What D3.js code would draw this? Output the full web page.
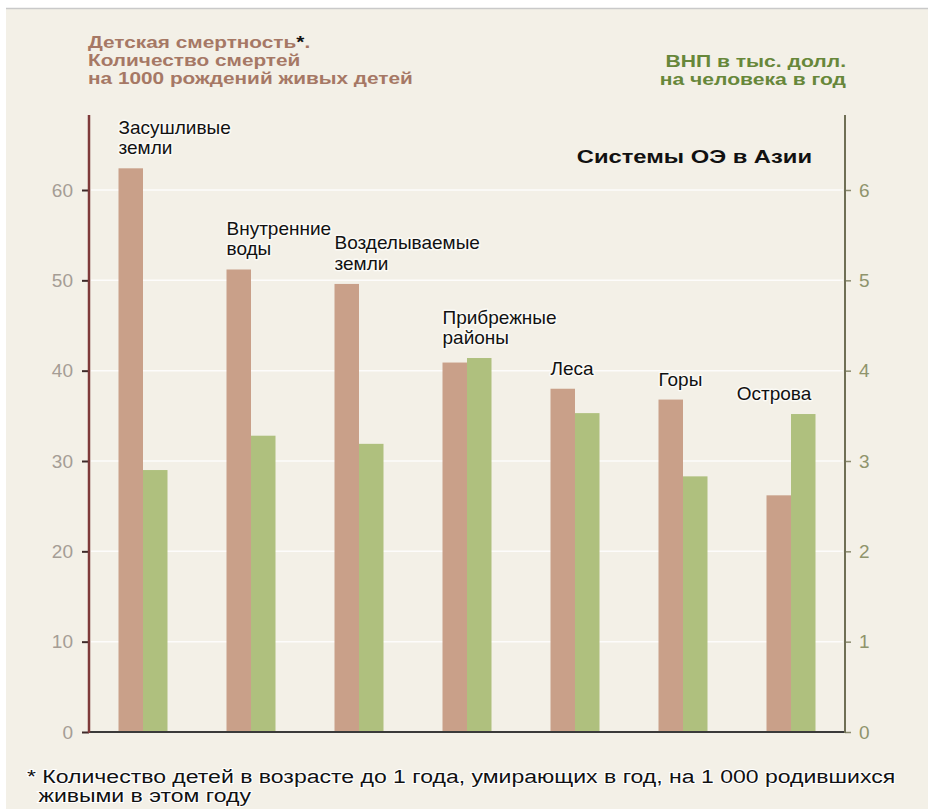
<!DOCTYPE html>
<html>
<head>
<meta charset="utf-8">
<script src="https://cdn.jsdelivr.net/npm/d3@7"></script>
<style>
  html, body { margin: 0; padding: 0; background: #ffffff; }
  svg { display: block; }
  text { font-family: "Liberation Sans", Arial, sans-serif; }
</style>
</head>
<body>
<svg id="chart" width="928" height="809"></svg>
<script>
// Ecosystem types in Asia
const categories = [
  ["Засушливые", "земли"],
  ["Внутренние", "воды"],
  ["Возделываемые", "земли"],
  ["Прибрежные", "районы"],
  ["Леса"],
  ["Горы"],
  ["Острова"]
];
// Infant mortality, deaths per 1000 live births
const mortality = [62.4, 51.2, 49.6, 40.9, 38.0, 36.8, 26.2];
// GNP, thousand USD per person per year
const gnp = [2.9, 3.28, 3.19, 4.14, 3.53, 2.83, 3.52];
const leftTicks = [0, 10, 20, 30, 40, 50, 60];
const rightTicks = [0, 1, 2, 3, 4, 5, 6];

const svg = d3.select("#chart");
const W = 928, H = 809;

// page card
svg.append("rect").attr("x", 6).attr("y", 8).attr("width", W - 6).attr("height", H - 8)
  .attr("fill", "#f3f0e7");
svg.append("line").attr("x1", 6).attr("x2", W).attr("y1", 8.5).attr("y2", 8.5)
  .attr("stroke", "#c9c9c9").attr("stroke-width", 1.5);

const plot = { left: 89, right: 845, bottom: 732, axisTop: 115 };

const names = categories.map(c => c.join(" "));
const x = d3.scaleBand().domain(names).range([plot.left, plot.right]).padding(0);
const yL = d3.scaleLinear().domain([0, 60]).range([plot.bottom, 190]);
const yR = d3.scaleLinear().domain([0, 6]).range([plot.bottom, 190]);
const barW = 24.5;

// grid lines
svg.append("g").selectAll("line").data(leftTicks.slice(1)).join("line")
  .attr("x1", plot.left + 2).attr("x2", plot.right - 2)
  .attr("y1", d => yL(d)).attr("y2", d => yL(d))
  .attr("stroke", "#ffffff").attr("stroke-width", 1.5).attr("opacity", 0.85);

// bars
const groups = svg.append("g").selectAll("g").data(names).join("g");
groups.append("rect")
  .attr("x", d => x(d) + x.bandwidth() / 2 - barW)
  .attr("y", (d, i) => yL(mortality[i]))
  .attr("width", barW)
  .attr("height", (d, i) => plot.bottom - yL(mortality[i]))
  .attr("fill", "#c9a089");
groups.append("rect")
  .attr("x", d => x(d) + x.bandwidth() / 2)
  .attr("y", (d, i) => yR(gnp[i]))
  .attr("width", barW)
  .attr("height", (d, i) => plot.bottom - yR(gnp[i]))
  .attr("fill", "#afc07e");

// category labels above each pair
groups.each(function (d, i) {
  const top = Math.min(yL(mortality[i]), yR(gnp[i]));
  const lines = categories[i];
  const t = d3.select(this).append("text")
    .attr("font-family", "'DejaVu Sans', sans-serif")
    .attr("font-size", 19).attr("fill", "#111")
    .attr("stroke", "#fbfaf5").attr("stroke-width", 3).attr("paint-order", "stroke")
    .attr("stroke-linejoin", "round");
  const last = i === categories.length - 1;
  const x0 = last ? x(d) + x.bandwidth() / 2 - 17 : x(d) + x.bandwidth() / 2 - barW;
  if (last) t.attr("text-anchor", "middle");
  lines.forEach((ln, k) => {
    t.append("tspan").attr("x", x0)
      .attr("y", top - 14 - (lines.length - 1 - k) * 20.5)
      .text(ln);
  });
});

// baseline
svg.append("line").attr("x1", plot.left).attr("x2", plot.right)
  .attr("y1", plot.bottom).attr("y2", plot.bottom)
  .attr("stroke", "#3a3a3a").attr("stroke-width", 2);

// left axis
const gL = svg.append("g").attr("transform", `translate(${plot.left},0)`)
  .call(d3.axisLeft(yL).tickValues(leftTicks).tickSize(7).tickPadding(9).tickSizeOuter(0));
gL.select(".domain").remove();
gL.selectAll(".tick line").attr("stroke", "#3d2a2a").attr("stroke-width", 2);
gL.selectAll(".tick text").attr("font-size", 19).attr("fill", "#a59d95")
  .attr("font-family", "Liberation Sans, Arial, sans-serif");
gL.append("line").attr("x1", 0).attr("x2", 0).attr("y1", plot.bottom + 1).attr("y2", plot.axisTop)
  .attr("stroke", "#7e3a3a").attr("stroke-width", 2.5);

// right axis
const gR = svg.append("g").attr("transform", `translate(${plot.right},0)`)
  .call(d3.axisRight(yR).tickValues(rightTicks).tickFormat(d3.format("d"))
    .tickSize(6).tickPadding(8).tickSizeOuter(0));
gR.select(".domain").remove();
gR.selectAll(".tick line").attr("stroke", "#8a8a6e").attr("stroke-width", 1.5);
gR.selectAll(".tick text").attr("font-size", 19).attr("fill", "#8f946c")
  .attr("font-family", "Liberation Sans, Arial, sans-serif");
gR.append("line").attr("x1", 0).attr("x2", 0).attr("y1", plot.bottom + 1).attr("y2", plot.axisTop)
  .attr("stroke", "#6f6f55").attr("stroke-width", 2);

// left title (wide heavy face)
const titleL = svg.append("g").attr("transform", "translate(88,0) scale(1.3,1)")
  .attr("font-size", 16).attr("font-weight", "bold").attr("fill", "#a67865");
const tl = titleL.append("text").attr("x", 0).attr("y", 48);
tl.append("tspan").text("Детская смертность");
tl.append("tspan").attr("fill", "#111").text("*");
tl.append("tspan").text(".");
titleL.append("text").attr("x", 0).attr("y", 66).text("Количество смертей");
titleL.append("text").attr("x", 0).attr("y", 84).text("на 1000 рождений живых детей");

// right title
const titleR = svg.append("g").attr("transform", "translate(846,0) scale(1.32,1)")
  .attr("font-size", 16).attr("font-weight", "bold").attr("fill", "#67873a")
  .attr("text-anchor", "end");
titleR.append("text").attr("x", 0).attr("y", 67).text("ВНП в тыс. долл.");
titleR.append("text").attr("x", 0).attr("y", 85).text("на человека в год");

// chart heading
svg.append("g").attr("transform", "translate(812,0) scale(1.25,1)")
  .append("text").attr("x", 0).attr("y", 163).attr("text-anchor", "end")
  .attr("font-size", 19).attr("font-weight", "bold").attr("fill", "#111")
  .text("Системы ОЭ в Азии");

// footnote
const fn = svg.append("g").attr("transform", "translate(27,0) scale(1.28,1)")
  .attr("font-size", 18).attr("fill", "#111")
  .attr("stroke", "#ffffff").attr("stroke-width", 2).attr("paint-order", "stroke");
fn.append("text").attr("x", 0).attr("y", 783)
  .text("* Количество детей в возрасте до 1 года, умирающих в год, на 1  000 родившихся");
fn.append("text").attr("x", 9).attr("y", 802)
  .text("живыми в этом году");
</script>
</body>
</html>
